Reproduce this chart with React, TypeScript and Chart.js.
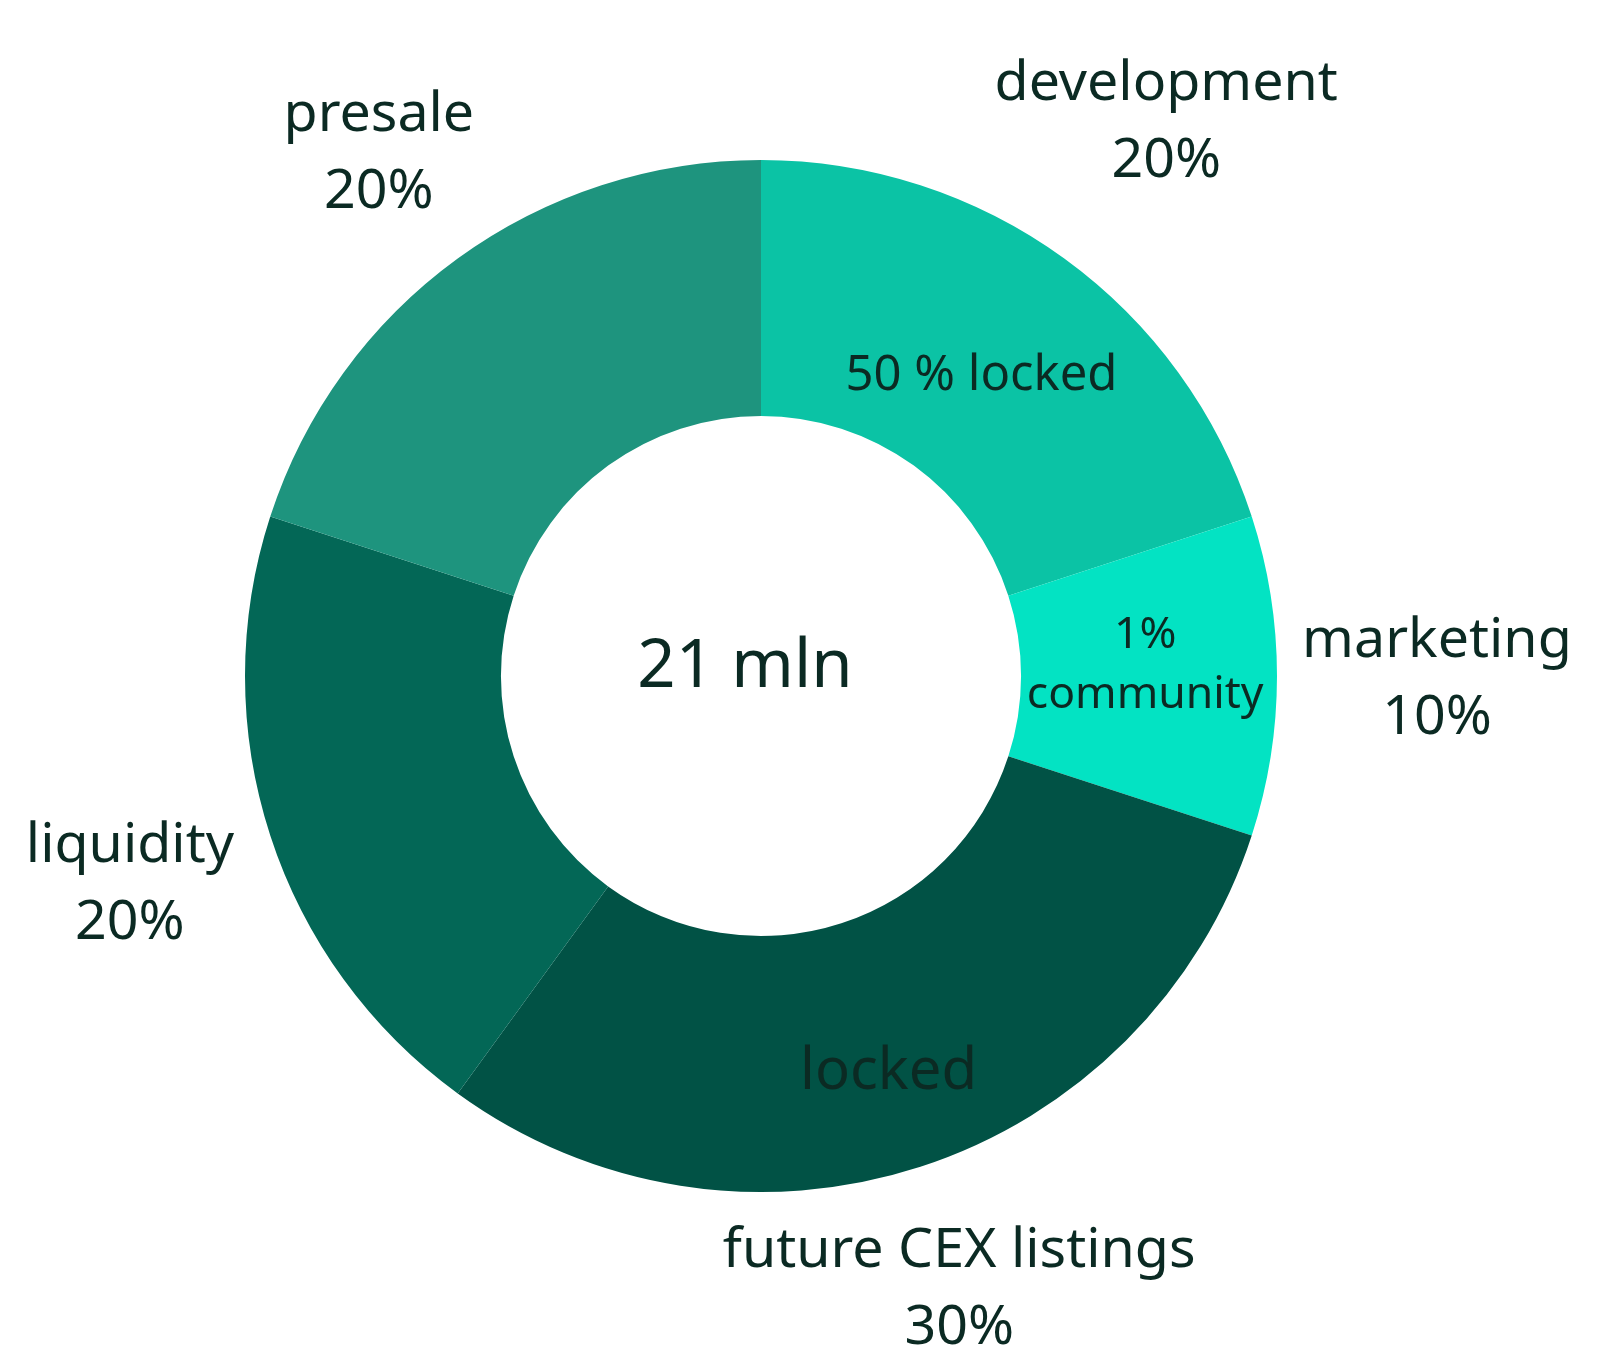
import React, { useEffect, useRef } from "react";
import { Chart, registerables } from "chart.js";

Chart.register(...registerables);

// ---- data ----
const categories = ["development", "marketing", "future CEX listings", "liquidity", "presale"];
const shares = [20, 10, 30, 20, 20];
const shareLabels = ["20%", "10%", "30%", "20%", "20%"];
const innerNotes: string[][] = [["50 % locked"], ["1%", "community"], ["locked"], [], []];
const centerText = "21 mln";

// ---- styles / layout ----
const sliceColors = ["#0bc3a5", "#03e3c3", "#015245", "#036756", "#1e947e"];
const textColor = "#0b2a23";
const FONT = "'Noto Sans', 'Open Sans', sans-serif";
// radial placement of outer labels (in units of outer radius)
const outerRadial = [1.336, 1.31, 1.243, 1.286, 1.26];
const innerRadial = [0.727, 0.745, 0.8, 0, 0];
const innerAngleTweak = [0, -2, 0, 0, 0];
const innerFontSizes = [49, 44.5, 58, 0, 0];
const innerLineHeights = [0, 60, 0, 0, 0];
const outerFontSize = 55.5;
const outerLineHeight = 77;

function drawBlock(ctx: CanvasRenderingContext2D, lines: string[], x: number, y: number, size: number, lh: number) {
  ctx.font = `${size}px ${FONT}`;
  ctx.textAlign = "center";
  ctx.textBaseline = "alphabetic";
  const capHalf = size * 0.714 / 2;
  const n = lines.length;
  lines.forEach((t, i) => {
    const by = y + (i - (n - 1) / 2) * lh + capHalf;
    ctx.fillText(t, x, by);
  });
}

const labelPlugin = {
  id: "donutLabels",
  afterDraw(chart: any) {
    const ctx: CanvasRenderingContext2D = chart.ctx;
    const meta = chart.getDatasetMeta(0);
    ctx.save();
    ctx.fillStyle = textColor;
    let cx = 0, cy = 0, R = 0;
    meta.data.forEach((arc: any, i: number) => {
      const p = arc.getProps(["x", "y", "startAngle", "endAngle", "outerRadius"], true);
      cx = p.x; cy = p.y; R = p.outerRadius;
      const mid = (p.startAngle + p.endAngle) / 2;
      const ox = p.x + Math.cos(mid) * R * outerRadial[i];
      const oy = p.y + Math.sin(mid) * R * outerRadial[i];
      drawBlock(ctx, [categories[i], shareLabels[i]], ox, oy, outerFontSize, outerLineHeight);
      if (innerNotes[i].length) {
        const a = mid + (innerAngleTweak[i] * Math.PI) / 180;
        const ix = p.x + Math.cos(a) * R * innerRadial[i];
        const iy = p.y + Math.sin(a) * R * innerRadial[i];
        drawBlock(ctx, innerNotes[i], ix, iy, innerFontSizes[i], innerLineHeights[i]);
      }
    });
    drawBlock(ctx, [centerText], cx - R * 0.031, cy - R * 0.0245, 67, 0);
    ctx.restore();
  },
};

export default function App() {
  const ref = useRef<HTMLCanvasElement>(null);
  useEffect(() => {
    if (!ref.current) return;
    const chart = new Chart(ref.current, {
      type: "doughnut",
      data: {
        labels: categories,
        datasets: [
          {
            data: shares,
            backgroundColor: sliceColors,
            borderWidth: 0,
            hoverOffset: 0,
          },
        ],
      },
      options: {
        responsive: false,
        animation: false,
        cutout: "50.4%",
        rotation: 0,
        layout: { padding: { left: 245, right: 323, top: 160, bottom: 175 } },
        plugins: { legend: { display: false }, tooltip: { enabled: false } },
      },
      plugins: [labelPlugin],
    });
    return () => chart.destroy();
  }, []);
  return (
    <div style={{ position: "fixed", left: 0, top: 0, width: 1600, height: 1367, background: "#ffffff" }}>
      <canvas ref={ref} width={1600} height={1367} style={{ display: "block" }} />
    </div>
  );
}
